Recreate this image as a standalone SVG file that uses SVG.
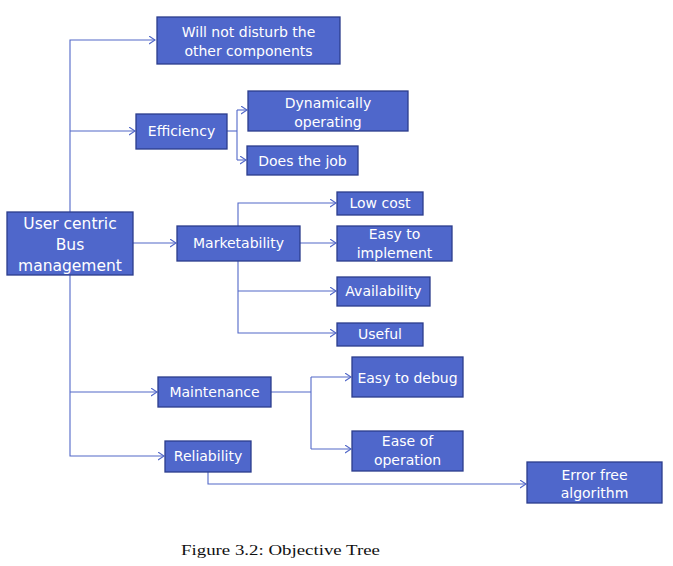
<svg xmlns="http://www.w3.org/2000/svg" width="673" height="566" viewBox="0 0 673 566">
<style>
.box{fill:#4f67cb;stroke:#2c3c8c;stroke-width:1.3}
.t{font-family:"DejaVu Sans",sans-serif;font-size:14px;fill:#ffffff;text-anchor:middle}
.root{font-size:15.5px}
.c{fill:none;stroke:#5268c8;stroke-width:1.1}
.cap{font-family:"Liberation Serif",serif;font-size:15px;fill:#111}
</style>
<defs>
<marker id="arr" markerWidth="8" markerHeight="10" refX="6" refY="4" orient="auto" markerUnits="userSpaceOnUse">
<path d="M0,0 L6,4 L0,8" fill="none" stroke="#5268c8" stroke-width="1.1"/>
</marker>
</defs>
<rect width="673" height="566" fill="#ffffff"/>
<g id="connectors">
<path class="c" d="M70,212 V40 H155" marker-end="url(#arr)"/>
<path class="c" d="M70,131 H135" marker-end="url(#arr)"/>
<path class="c" d="M70,275 V456 H164" marker-end="url(#arr)"/>
<path class="c" d="M70,392 H157" marker-end="url(#arr)"/>
<path class="c" d="M133,243 H176" marker-end="url(#arr)"/>
<path class="c" d="M227,131 H237"/>
<path class="c" d="M237,110 V160"/>
<path class="c" d="M237,110 H247" marker-end="url(#arr)"/>
<path class="c" d="M237,160 H246" marker-end="url(#arr)"/>
<path class="c" d="M238,226 V203 H336" marker-end="url(#arr)"/>
<path class="c" d="M238,261 V333 H336" marker-end="url(#arr)"/>
<path class="c" d="M238,291 H336" marker-end="url(#arr)"/>
<path class="c" d="M300,243 H336" marker-end="url(#arr)"/>
<path class="c" d="M271,392 H311"/>
<path class="c" d="M311,377 V449"/>
<path class="c" d="M311,377 H351" marker-end="url(#arr)"/>
<path class="c" d="M311,449 H351" marker-end="url(#arr)"/>
<path class="c" d="M208,472 V484 H526" marker-end="url(#arr)"/>
</g>
<g id="root"><rect class="box" x="7" y="212" width="126" height="63"/>
<text class="t root" x="70" y="228.5">User centric</text>
<text class="t root" x="70" y="249.5">Bus</text>
<text class="t root" x="70" y="270.5">management</text></g>
<g id="n-disturb"><rect class="box" x="157" y="17" width="183" height="47"/>
<text class="t" x="248.5" y="37">Will not disturb the</text>
<text class="t" x="248.5" y="56">other components</text></g>
<g id="n-efficiency"><rect class="box" x="136" y="114" width="91" height="35"/>
<text class="t" x="181.5" y="136">Efficiency</text></g>
<g id="n-dynamic"><rect class="box" x="248" y="91" width="160" height="40"/>
<text class="t" x="328" y="108">Dynamically</text>
<text class="t" x="328" y="127">operating</text></g>
<g id="n-job"><rect class="box" x="247" y="146" width="111" height="29"/>
<text class="t" x="302.5" y="166">Does the job</text></g>
<g id="n-market"><rect class="box" x="177" y="226" width="123" height="35"/>
<text class="t" x="238.5" y="248">Marketability</text></g>
<g id="n-lowcost"><rect class="box" x="337" y="192" width="86" height="23"/>
<text class="t" x="380" y="208">Low cost</text></g>
<g id="n-implement"><rect class="box" x="337" y="226" width="115" height="35"/>
<text class="t" x="394.5" y="239">Easy to</text>
<text class="t" x="394.5" y="258">implement</text></g>
<g id="n-avail"><rect class="box" x="337" y="277" width="93" height="29"/>
<text class="t" x="383.5" y="296">Availability</text></g>
<g id="n-useful"><rect class="box" x="337" y="323" width="86" height="23"/>
<text class="t" x="380" y="339">Useful</text></g>
<g id="n-maint"><rect class="box" x="158" y="377" width="113" height="30"/>
<text class="t" x="214.5" y="397">Maintenance</text></g>
<g id="n-debug"><rect class="box" x="352" y="357" width="111" height="40"/>
<text class="t" x="407.5" y="383">Easy to debug</text></g>
<g id="n-easeop"><rect class="box" x="352" y="431" width="111" height="40"/>
<text class="t" x="407.5" y="446">Ease of</text>
<text class="t" x="407.5" y="465">operation</text></g>
<g id="n-reliab"><rect class="box" x="165" y="441" width="86" height="31"/>
<text class="t" x="208" y="461">Reliability</text></g>
<g id="n-errorfree"><rect class="box" x="527" y="462" width="135" height="41"/>
<text class="t" x="594.5" y="480">Error free</text>
<text class="t" x="594.5" y="498">algorithm</text></g>
<text class="cap" x="181" y="555" textLength="199" lengthAdjust="spacingAndGlyphs">Figure 3.2: Objective Tree</text>
</svg>
